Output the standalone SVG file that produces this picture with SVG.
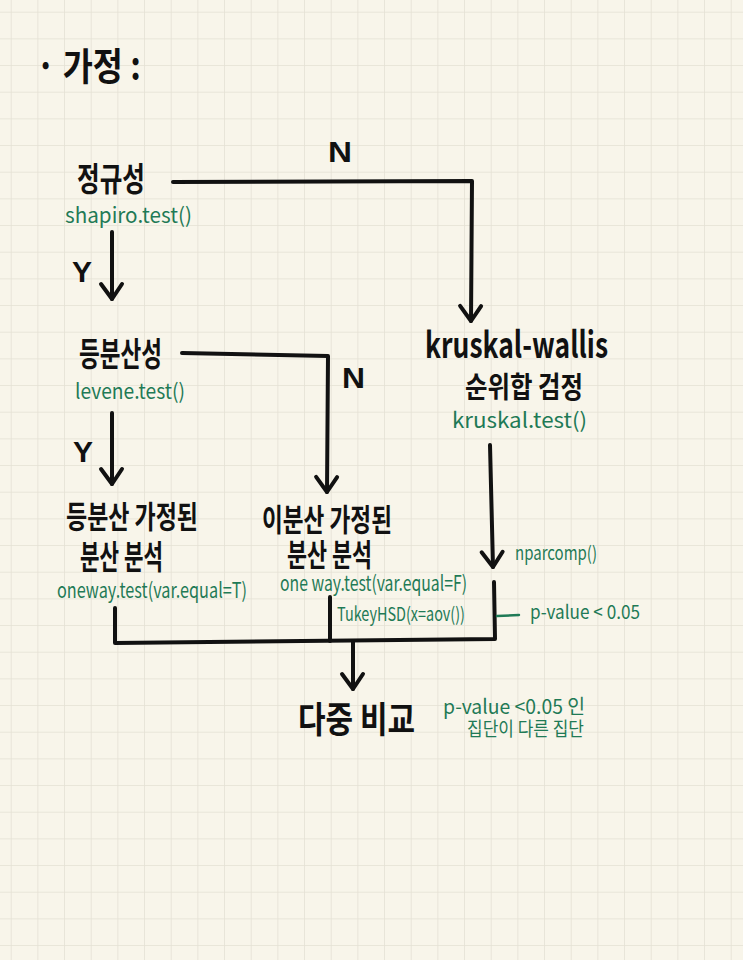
<svg xmlns="http://www.w3.org/2000/svg" width="743" height="960" viewBox="0 0 743 960">
<style>
.blk{font-family:"Noto Sans CJK KR","Liberation Sans",sans-serif;font-weight:700;fill:#111;}
.grn{font-family:"Noto Sans CJK KR","Liberation Sans",sans-serif;font-weight:400;fill:#1f7a56;}
.lbl{font-family:"Liberation Sans",sans-serif;font-weight:700;fill:#111;}
.con{fill:none;stroke:#111;stroke-width:4;stroke-linecap:round;stroke-linejoin:round;}
</style>
<defs>
<pattern id="grid" patternUnits="userSpaceOnUse" x="10.7" y="11.7" width="26.667" height="26.667">
<path d="M0,0 V26.667 M0,0 H26.667" fill="none" stroke="#e4e1d4" stroke-width="1.6"/>
</pattern>
<marker id="arrow" markerUnits="userSpaceOnUse" markerWidth="40" markerHeight="40" refX="0" refY="0" orient="auto" overflow="visible" viewBox="-20 -20 40 40">
<path d="M-15,-10 L0,0 L-15,11" fill="none" stroke="#111" stroke-width="4" stroke-linecap="round" stroke-linejoin="round"/>
</marker>
</defs>
<rect width="743" height="960" fill="#f8f5ea"/>
<rect width="743" height="960" fill="url(#grid)"/>

<g id="title"><text class="blk" x="36" y="80" font-size="38" textLength="105" lengthAdjust="spacingAndGlyphs">· 가정 :</text></g>

<g id="connectors">
<path class="con" d="M173,182 L472,181 L471,321" marker-end="url(#arrow)"/>
<path class="con" d="M112,232 L112,299" marker-end="url(#arrow)"/>
<path class="con" d="M182,353 L328,356 L327,492" marker-end="url(#arrow)"/>
<path class="con" d="M112,413 L112,484" marker-end="url(#arrow)"/>
<path class="con" d="M490,445 L493,567" marker-end="url(#arrow)"/>
<path class="con" d="M115,608 L115,643 L495,639 L494,582"/>
<path class="con" d="M330,597 L330,641"/>
<path class="con" d="M353,642 L353,689" marker-end="url(#arrow)"/>
<path d="M497,616 L519,615" fill="none" stroke="#1f7a56" stroke-width="2.5" stroke-linecap="round"/>
<text class="lbl" x="328" y="162" font-size="30" textLength="24" lengthAdjust="spacingAndGlyphs">N</text>
<text class="lbl" x="72" y="282" font-size="30" textLength="20" lengthAdjust="spacingAndGlyphs">Y</text>
<text class="lbl" x="342" y="388" font-size="30" textLength="23" lengthAdjust="spacingAndGlyphs">N</text>
<text class="lbl" x="73" y="462" font-size="30" textLength="20" lengthAdjust="spacingAndGlyphs">Y</text>
<text class="grn" x="515" y="560" font-size="19" textLength="82" lengthAdjust="spacingAndGlyphs">nparcomp()</text>
<text class="grn" x="530" y="619" font-size="19" textLength="110" lengthAdjust="spacingAndGlyphs">p-value &lt; 0.05</text>
</g>

<g id="normality">
<text class="blk" x="77" y="191" font-size="33" textLength="68" lengthAdjust="spacingAndGlyphs">정규성</text>
<text class="grn" x="65" y="223" font-size="21" textLength="127" lengthAdjust="spacingAndGlyphs">shapiro.test()</text>
</g>

<g id="homoscedasticity">
<text class="blk" x="79" y="366" font-size="33" textLength="83" lengthAdjust="spacingAndGlyphs">등분산성</text>
<text class="grn" x="75" y="399" font-size="21" textLength="110" lengthAdjust="spacingAndGlyphs">levene.test()</text>
</g>

<g id="kruskal">
<text class="blk" x="425" y="358" font-size="36" textLength="183" lengthAdjust="spacingAndGlyphs">kruskal-wallis</text>
<text class="blk" x="465" y="398" font-size="29" textLength="118" lengthAdjust="spacingAndGlyphs">순위합 검정</text>
<text class="grn" x="452" y="428" font-size="21" textLength="135" lengthAdjust="spacingAndGlyphs">kruskal.test()</text>
</g>

<g id="anova-equal">
<text class="blk" x="66" y="528" font-size="31" textLength="132" lengthAdjust="spacingAndGlyphs">등분산 가정된</text>
<text class="blk" x="80" y="569" font-size="33" textLength="83" lengthAdjust="spacingAndGlyphs">분산 분석</text>
<text class="grn" x="57" y="598" font-size="21" textLength="190" lengthAdjust="spacingAndGlyphs">oneway.test(var.equal=T)</text>
</g>

<g id="anova-unequal">
<text class="blk" x="262" y="531" font-size="31" textLength="130" lengthAdjust="spacingAndGlyphs">이분산 가정된</text>
<text class="blk" x="287" y="566" font-size="31" textLength="85" lengthAdjust="spacingAndGlyphs">분산 분석</text>
<text class="grn" x="280" y="591" font-size="21" textLength="187" lengthAdjust="spacingAndGlyphs">one way.test(var.equal=F)</text>
<text class="grn" x="337" y="621" font-size="19" textLength="128" lengthAdjust="spacingAndGlyphs">TukeyHSD(x=aov())</text>
</g>

<g id="multiple-comparison">
<text class="blk" x="298" y="733" font-size="36" textLength="117" lengthAdjust="spacingAndGlyphs">다중 비교</text>
<text class="grn" x="443" y="714" font-size="20" textLength="142" lengthAdjust="spacingAndGlyphs">p-value &lt;0.05 인</text>
<text class="grn" x="467" y="736" font-size="19" textLength="117" lengthAdjust="spacingAndGlyphs">집단이 다른 집단</text>
</g>
</svg>
